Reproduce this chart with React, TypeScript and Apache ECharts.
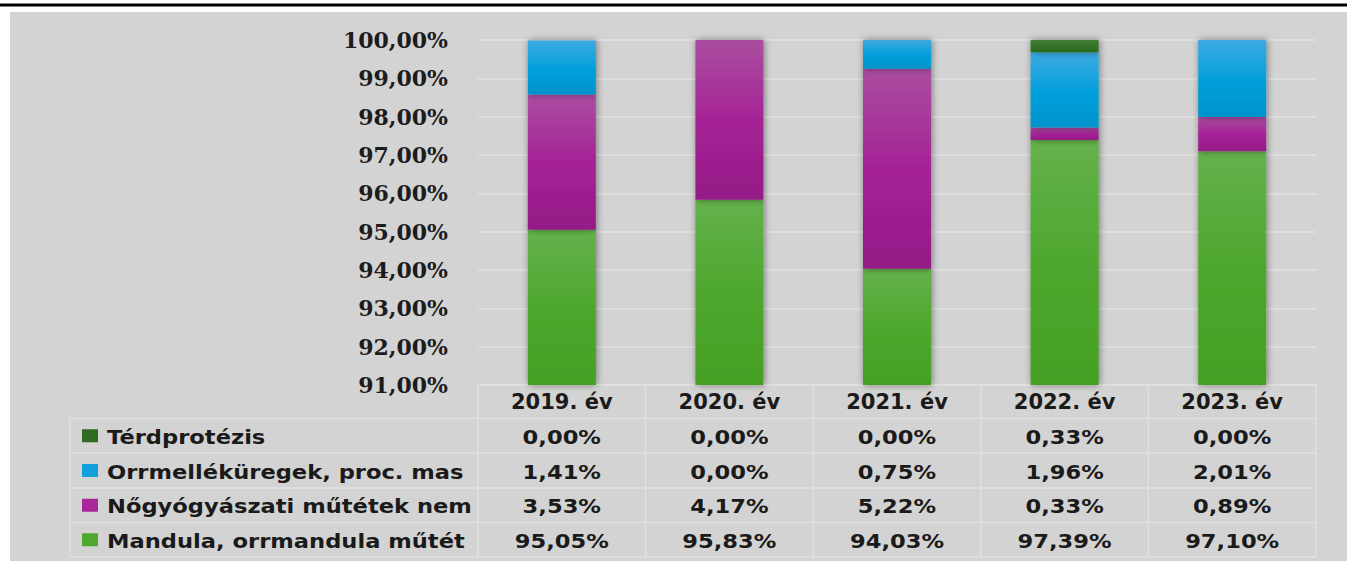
import React, { useEffect, useRef } from 'react';
import * as echarts from 'echarts';

// ---- data ----
const categories = ['2019. év', '2020. év', '2021. év', '2022. év', '2023. év'];
const seriesNames = [
  'Mandula, orrmandula műtét',
  'Nőgyógyászati műtétek nem',
  'Orrmelléküregek, proc. mas',
  'Térdprotézis',
];
const mandula = [95.05, 95.83, 94.03, 97.39, 97.1];
const nogyogy = [3.53, 4.17, 5.22, 0.33, 0.89];
const orrmellek = [1.41, 0.0, 0.75, 1.96, 2.01];
const terd = [0.0, 0.0, 0.0, 0.33, 0.0];
const yMin = 91;
const yMax = 100;
const yStep = 1;

// ---- styles ----
const gradients = [
  ['#64b24c', '#4ea72e', '#44a024'],
  ['#aa4ea0', '#a52396', '#941a87'],
  ['#3eaae1', '#06a0dc', '#0093cb'],
  ['#437e36', '#33722a', '#296a1e'],
];
const legendColors = ['#4ea72e', '#a8289a', '#11a0dc', '#2f6b23'];

const W = 1347;
const H = 561;
const gridL = 478;
const gridR = 1316;
const gridT = 40;
const gridB = 385;
const rowLines = [385, 418.5, 453, 488, 522.5, 557];
const tableLeft = 70;
const textScaleX = 1.13;

const fmtPct = (v: number) => v.toFixed(2).replace('.', ',') + '%';

export default function App() {
  const ref = useRef<HTMLDivElement>(null);
  useEffect(() => {
    if (!ref.current) return;
    const chart = echarts.init(ref.current, undefined, { renderer: 'svg' });
    const values = [mandula, nogyogy, orrmellek, terd];
    const band = (gridR - gridL) / categories.length;

    const graphics: any[] = [];
    graphics.push({ type: 'rect', z: -100, shape: { x: 0, y: 3.5, width: W, height: 3 }, style: { fill: '#000' } });
    graphics.push({ type: 'rect', z: -100, shape: { x: 10, y: 12, width: W - 10, height: H - 12 }, style: { fill: '#d3d3d3' } });

    const lineStyle = { stroke: '#e0e0e0', lineWidth: 1.5 };
    rowLines.forEach((y, i) => {
      const x1 = i === 0 ? gridL : tableLeft;
      graphics.push({ type: 'line', z: 1, shape: { x1, y1: y, x2: gridR, y2: y }, style: lineStyle });
    });
    for (let k = 0; k <= categories.length; k++) {
      const x = gridL + k * band;
      graphics.push({ type: 'line', z: 1, shape: { x1: x, y1: rowLines[0], x2: x, y2: rowLines[5] }, style: lineStyle });
    }
    graphics.push({ type: 'line', z: 1, shape: { x1: tableLeft, y1: rowLines[1], x2: tableLeft, y2: rowLines[5] }, style: lineStyle });

    const order = [3, 2, 1, 0];
    order.forEach((si, r) => {
      const yc = (rowLines[r + 1] + rowLines[r + 2]) / 2;
      graphics.push({
        type: 'rect', z: 2,
        shape: { x: 82, y: yc - 6.5, width: 16, height: 13 },
        style: { fill: legendColors[si] },
      });
      graphics.push({
        type: 'text', z: 2, x: 107, y: yc + 1, scaleX: textScaleX,
        style: {
          text: seriesNames[si], fontSize: 20, fontWeight: 'bold', fontFamily: 'DejaVu Sans',
          fill: '#1a1a1a', align: 'left', verticalAlign: 'middle',
        },
      });
      values[si].forEach((v, c) => {
        graphics.push({
          type: 'text', z: 2, x: gridL + band * (c + 0.5), y: yc + 1, scaleX: textScaleX,
          style: {
            text: fmtPct(v), fontSize: 20, fontWeight: 'bold', fontFamily: 'DejaVu Sans',
            fill: '#1a1a1a', align: 'center', verticalAlign: 'middle',
          },
        });
      });
    });

    chart.setOption({
      animation: false,
      grid: { left: gridL, right: W - gridR, top: gridT, bottom: H - gridB, containLabel: false },
      xAxis: {
        type: 'category',
        data: categories,
        axisLine: { show: false },
        axisTick: { show: false },
        axisLabel: {
          margin: 6,
          fontSize: 21,
          fontWeight: 'bold',
          fontFamily: 'DejaVu Sans',
          color: '#1a1a1a',
        },
      },
      yAxis: {
        type: 'value',
        min: yMin,
        max: yMax,
        interval: yStep,
        axisLine: { show: false },
        axisTick: { show: false },
        splitLine: { lineStyle: { color: '#dedede', width: 2 } },
        axisLabel: {
          margin: 30,
          fontSize: 22,
          fontWeight: 'bold',
          fontFamily: 'DejaVu Serif',
          color: '#1c1c1c',
          formatter: (v: number) => fmtPct(v),
        },
      },
      series: values.map((d, i) => ({
        type: 'bar',
        name: seriesNames[i],
        stack: 'total',
        barWidth: 68,
        data: d,
        itemStyle: {
          color: new echarts.graphic.LinearGradient(0, 0, 0, 1, [
            { offset: 0, color: gradients[i][0] },
            { offset: 0.5, color: gradients[i][1] },
            { offset: 1, color: gradients[i][2] },
          ]),
          shadowBlur: 7,
          shadowColor: 'rgba(0,0,0,0.45)',
          shadowOffsetX: 1,
          shadowOffsetY: 0,
        },
      })),
      graphic: graphics,
    });
    return () => chart.dispose();
  }, []);
  return (
    <div
      ref={ref}
      style={{ position: 'absolute', left: 0, top: 0, width: W, height: H, background: '#fff' }}
    />
  );
}
